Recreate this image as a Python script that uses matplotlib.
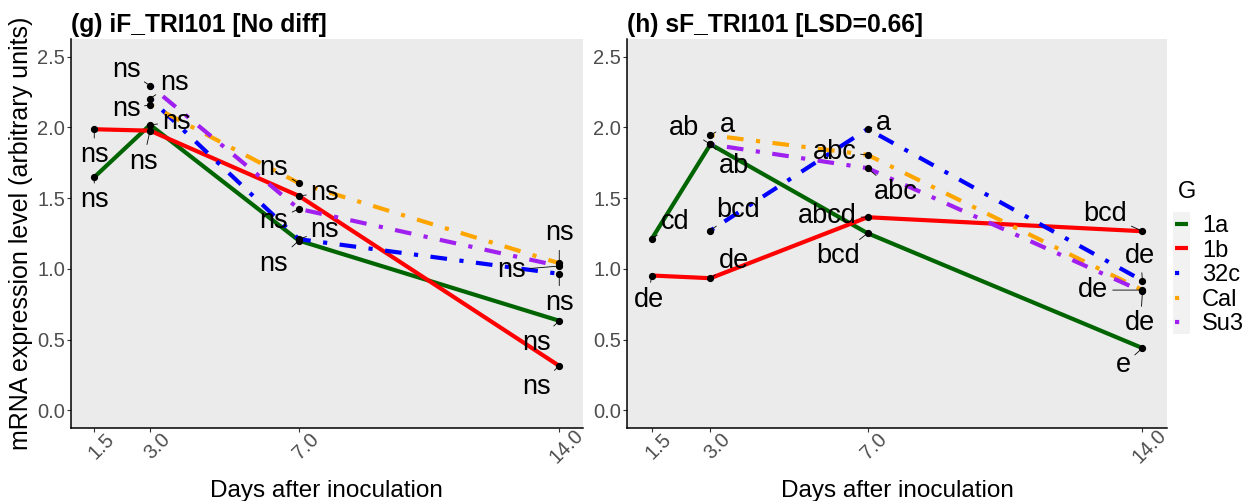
import numpy as np
import matplotlib.pyplot as plt
from matplotlib.patches import Rectangle

plt.rcParams['font.family'] = ['Liberation Sans', 'DejaVu Sans']

nan = np.nan
days = [1.5, 3.0, 7.0, 14.0]
day_labels = ['1.5', '3.0', '7.0', '14.0']
yticks = [0.0, 0.5, 1.0, 1.5, 2.0, 2.5]
genotypes = ['1a', '1b', '32c', 'Cal', 'Su3']

# (g) iF_TRI101 mean expression per genotype
if_1a = [1.648, 2.018, 1.200, 0.633]
if_1b = [1.987, 1.977, 1.516, 0.314]
if_32c = [nan, 2.204, 1.210, 0.965]
if_cal = [nan, 2.159, 1.606, 1.040]
if_su3 = [nan, 2.295, 1.424, 1.020]

# (h) sF_TRI101 mean expression per genotype
sf_1a = [1.210, 1.881, 1.252, 0.440]
sf_1b = [0.953, 0.934, 1.365, 1.266]
sf_32c = [nan, 1.271, 1.989, 0.917]
sf_cal = [nan, 1.945, 1.806, 0.850]
sf_su3 = [nan, 1.880, 1.712, 0.840]

# LSD letters
if_1a_let = ['ns', 'ns', 'ns', 'ns']
if_1b_let = ['ns', 'ns', 'ns', 'ns']
if_32c_let = ['', 'ns', 'ns', 'ns']
if_cal_let = ['', 'ns', 'ns', 'ns']
if_su3_let = ['', 'ns', 'ns', 'ns']
sf_1a_let = ['cd', 'ab', 'bcd', 'e']
sf_1b_let = ['de', 'de', 'abcd', 'bcd']
sf_32c_let = ['', 'bcd', 'a', 'de']
sf_cal_let = ['', 'a', 'abc', 'de']
sf_su3_let = ['', 'ab', 'abc', 'de']

colors = {'1a': '#006400', '1b': '#FF0000', '32c': '#0000FF',
          'Cal': '#FFA500', 'Su3': '#A020F0'}
dotdash = (0, (1, 3, 4, 3))
styles = {'1a': '-', '1b': '-', '32c': dotdash, 'Cal': dotdash, 'Su3': dotdash}

# where the repelled labels sit relative to their point (pixels, +y up)
if_offsets = {
    '1a': [(0, -23), (26, 3), (-25, -23), (-23, -22)],
    '1b': [(0, -26), (-7, -31), (26, 3), (-23, -21)],
    '32c': [None, (24, 16), (26, 9), (0, -29)],
    'Cal': [None, (-24, -4), (-25, 15), (0, 30)],
    'Su3': [None, (-24, 16), (-25, -12), (-48, -4)],
}
sf_offsets = {
    '1a': [(24, 17), (-26, 16), (-29, -23), (-19, -17)],
    '1b': [(-3, -24), (24, 17), (-40, 1), (-37, 17)],
    '32c': [None, (28, 21), (16, 6), (-2, 25)],
    'Cal': [None, (17, 10), (-33, 3), (-49, 0)],
    'Su3': [None, (24, -22), (28, -24), (-2, -32)],
}

TICK_COLOR = '#4D4D4D'


def draw_panel(ax, series, letters, offsets, title):
    ax.set_facecolor('#EBEBEB')
    lines = []
    for g in genotypes:
        (ln,) = ax.plot(days, series[g], color=colors[g], ls=styles[g],
                        lw=3, solid_capstyle='butt', label=g, zorder=2)
        lines.append(ln)
    for g in genotypes:
        ax.plot(days, series[g], 'o', color='black', ms=4.2, zorder=3)
        for d, v, lab, off in zip(days, series[g], letters[g], offsets[g]):
            if not lab or off is None:
                continue
            ax.annotate(lab, xy=(d, v), xytext=off, textcoords='offset pixels',
                        ha='center', va='center', fontsize=19.5, zorder=4,
                        arrowprops=dict(arrowstyle='-', color='black', lw=0.6,
                                        shrinkA=1, shrinkB=2))
    ax.set_xlim(0.875, 14.625)
    ax.set_ylim(-0.125, 2.625)
    ax.set_xticks(days)
    ax.set_xticklabels(day_labels, rotation=45, ha='center', va='top',
                       rotation_mode='anchor')
    ax.set_yticks(yticks)
    ax.set_yticklabels([f'{t:.1f}' for t in yticks])
    ax.tick_params(axis='both', labelsize=14.5, labelcolor=TICK_COLOR,
                   color='#333333', length=2.6, width=0.8)
    ax.tick_params(axis='x', pad=6)
    ax.tick_params(axis='y', pad=1.5)
    for side in ['top', 'right']:
        ax.spines[side].set_visible(False)
    for side in ['left', 'bottom']:
        ax.spines[side].set_linewidth(1.1)
        ax.spines[side].set_color('black')
    ax.set_xlabel('Days after inoculation', fontsize=17.5, labelpad=9)
    ax.set_title(title, loc='left', fontsize=17.7, fontweight='bold', pad=5)
    return lines


fig = plt.figure(figsize=(12.56, 5.01), dpi=100)
ax_g = fig.add_axes([0.05653, 0.14571, 0.40725, 0.77645])
ax_h = fig.add_axes([0.49920, 0.14571, 0.42994, 0.77645])

if_series = {'1a': if_1a, '1b': if_1b, '32c': if_32c, 'Cal': if_cal, 'Su3': if_su3}
sf_series = {'1a': sf_1a, '1b': sf_1b, '32c': sf_32c, 'Cal': sf_cal, 'Su3': sf_su3}
if_letters = {'1a': if_1a_let, '1b': if_1b_let, '32c': if_32c_let,
              'Cal': if_cal_let, 'Su3': if_su3_let}
sf_letters = {'1a': sf_1a_let, '1b': sf_1b_let, '32c': sf_32c_let,
              'Cal': sf_cal_let, 'Su3': sf_su3_let}

handles = draw_panel(ax_g, if_series, if_letters, if_offsets,
                     '(g) iF_TRI101 [No diff]')
draw_panel(ax_h, sf_series, sf_letters, sf_offsets,
           '(h) sF_TRI101 [LSD=0.66]')
ax_g.set_ylabel('mRNA expression level (arbitrary units)', fontsize=18,
                labelpad=3)

# legend: title as its own text so the key column can start lower
fig.text(1178 / 1256, 1 - 192 / 501, 'G', fontsize=17, ha='left', va='center')
leg = fig.legend(handles, genotypes, loc='upper left',
                 bbox_to_anchor=(1175 / 1256, 1 - 215 / 501), frameon=False,
                 fontsize=17, handlelength=0.55, handletextpad=0.6,
                 labelspacing=0.11, borderpad=0.0, borderaxespad=0.0)

# grey background behind the legend keys
fig.canvas.draw()
renderer = fig.canvas.get_renderer()
boxes = [h.get_window_extent(renderer) for h in leg.legend_handles]
x0 = min(b.x0 for b in boxes) - 2
x1 = max(b.x1 for b in boxes) + 2
y_top = max((b.y0 + b.y1) / 2 for b in boxes) + 12
y_bot = min((b.y0 + b.y1) / 2 for b in boxes) - 12
inv = fig.transFigure.inverted()
(fx0, fy0), (fx1, fy1) = inv.transform([(x0, y_bot), (x1, y_top)])
fig.add_artist(Rectangle((fx0, fy0), fx1 - fx0, fy1 - fy0,
                         transform=fig.transFigure, facecolor='#F2F2F2',
                         edgecolor='none', zorder=1))

fig.savefig('out.png', dpi=100)
